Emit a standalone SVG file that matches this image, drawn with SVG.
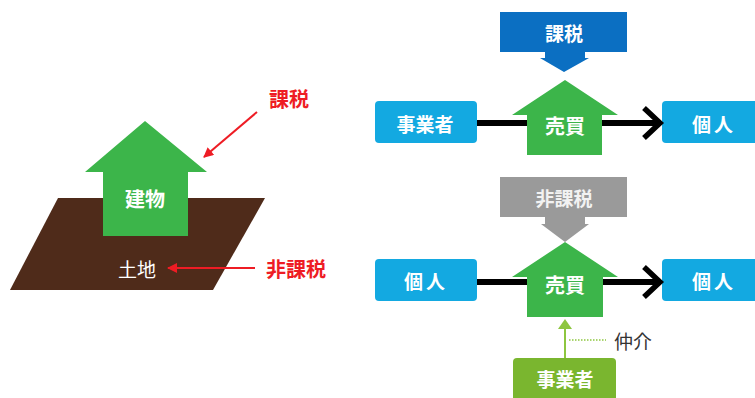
<svg xmlns="http://www.w3.org/2000/svg" width="755" height="398" viewBox="0 0 755 398">
<defs>
<style>
.t{font-family:"Noto Sans CJK JP","Noto Sans",sans-serif;font-weight:bold;text-anchor:middle;dominant-baseline:central}
.w{fill:#fff}
.r{fill:#ee1c24;font-size:20px}
.box{fill:#13a9e1}
.house{fill:#3cb54a}
.ln{stroke:#000;stroke-width:6;fill:none}
.chev{stroke:#000;stroke-width:5.5;fill:none;stroke-linejoin:miter}
.red{stroke:#ee1c24;stroke-width:2;fill:none}
</style>
<marker id="ra" viewBox="0 0 10 10" refX="9" refY="5" markerWidth="11" markerHeight="10" markerUnits="userSpaceOnUse" orient="auto">
<path d="M0,0 L10,5 L0,10 Z" fill="#ee1c24"/>
</marker>
</defs>
<rect width="755" height="398" fill="#fff"/>

<g id="land">
<polygon points="58,198 265,198 213,290 10,290" fill="#4f2b1a"/>
<text class="t w" x="137" y="268" font-size="19" style="font-weight:normal">土地</text>
</g>
<g id="building">
<polygon points="145,121 207,172 188,172 188,236 103,236 103,172 85,172" class="house"/>
<text class="t w" x="145" y="198" font-size="20">建物</text>
</g>
<g id="label-tax">
<text class="t r" x="289" y="98">課税</text>
</g>
<g id="label-nontax">
<text class="t r" x="296" y="268">非課税</text>
</g>

<g id="tax-box">
<rect x="500" y="12" width="127" height="40" fill="#0b6fc2"/>
<polygon points="545,52 585,52 585,58 589,58 564,72 540,58 545,58" fill="#0b6fc2"/>
<text class="t w" x="564" y="32" font-size="19">課税</text>
</g>
<g id="seller1">
<rect x="375" y="101" width="102" height="42" rx="4" class="box"/>
<text class="t w" x="425" y="123" font-size="19">事業者</text>
</g>
<g id="buyer1">
<rect x="662" y="101" width="96" height="42" rx="4" class="box"/>
<text class="t w" x="714" y="123" font-size="19" letter-spacing="3">個人</text>
</g>

<g id="nontax-box">
<rect x="500" y="177" width="127" height="40" fill="#9a9a9a"/>
<polygon points="545,217 585,217 585,224 589,224 565,242 541,224 545,224" fill="#9a9a9a"/>
<text class="t w" x="564" y="197" font-size="19" style="fill:#f2f2f2">非課税</text>
</g>
<g id="seller2">
<rect x="375" y="259" width="102" height="42" rx="4" class="box"/>
<text class="t w" x="426" y="280" font-size="19" letter-spacing="3">個人</text>
</g>
<g id="buyer2">
<rect x="662" y="259" width="96" height="42" rx="4" class="box"/>
<text class="t w" x="714" y="280" font-size="19" letter-spacing="3">個人</text>
</g>
<g id="broker">
<rect x="513" y="358" width="103" height="48" rx="4" fill="#7ab62f"/>
<text class="t w" x="565" y="378" font-size="19">事業者</text>
</g>
<g id="label-broker">
<text class="t" x="633" y="340" font-size="19" fill="#333" style="font-weight:normal">仲介</text>
</g>

<g id="connectors">
<line x1="257" y1="112" x2="204" y2="157" class="red" marker-end="url(#ra)"/>
<line x1="255" y1="268" x2="168" y2="268" class="red" marker-end="url(#ra)"/>
<line x1="477" y1="123" x2="660" y2="123" class="ln"/>
<polyline points="644,108 660,123 644,138" class="chev"/>
<line x1="477" y1="282" x2="660" y2="282" class="ln"/>
<polyline points="644,267 660,282 644,297" class="chev"/>
<line x1="565" y1="358" x2="565" y2="327" stroke="#8dc63f" stroke-width="2"/>
<polygon points="565,319 572,329 558,329" fill="#8dc63f"/>
<line x1="569" y1="340" x2="606" y2="340" stroke="#8dc63f" stroke-width="1.5" stroke-dasharray="1.5,1.5"/>
</g>

<g id="trade1">
<polygon points="565,80 618,115 602,115 602,155 527,155 527,115 512,115" class="house"/>
<text class="t w" x="565" y="125" font-size="20">売買</text>
</g>
<g id="trade2">
<polygon points="565,242 618,277 603,277 603,317 527,317 527,277 512,277" class="house"/>
<text class="t w" x="565" y="284" font-size="20">売買</text>
</g>
</svg>
